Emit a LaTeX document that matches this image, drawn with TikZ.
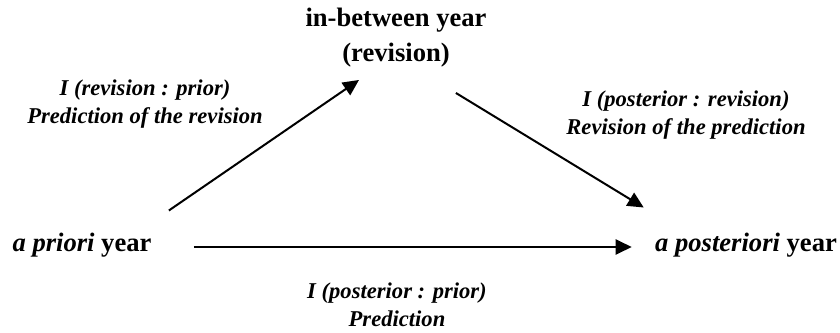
\documentclass[tikz,border=0pt]{standalone}
\usepackage{fontspec}
\setmainfont{Liberation Serif}
\usetikzlibrary{arrows.meta,positioning}

\begin{document}
\begin{tikzpicture}[x=0.5pt, y=-0.5pt,
  year/.style={inner sep=0pt, font=\fontsize{13.3}{17.5}\selectfont\bfseries, align=center},
  lbl/.style={inner sep=0pt, font=\fontsize{11.3}{14}\selectfont\bfseries\itshape, align=center},
  arr/.style={-{Triangle[length=8pt, width=7.5pt]}, line width=1pt},
]
\useasboundingbox (0,0) rectangle (840,332);

\node[year] (between) at (396,38) {in-between year\\(revision)};
\node[year] (prior) at (82,245) {\textit{a priori} year};
\node[year] (post) at (746,245) {\textit{a posteriori} year};

\node[lbl] (predrev) at (145,104) {I (revision : prior)\\Prediction of the revision};
\node[lbl] (revpred) at (686,115) {I (posterior : revision)\\Revision of the prediction};
\node[lbl] (pred) at (397,305) {I (posterior : prior)\\Prediction};

\draw[arr] ([shift={(17,-22)}]prior.north east) -- ([shift={(-37,12)}]between.south);
\draw[arr] ([shift={(-31,25)}]between.south east) -- ([shift={(-11,-25)}]post.north west);
\draw[arr] ([shift={(42,2)}]prior.east) -- ([shift={(-23,2)}]post.west);
\end{tikzpicture}
\end{document}
